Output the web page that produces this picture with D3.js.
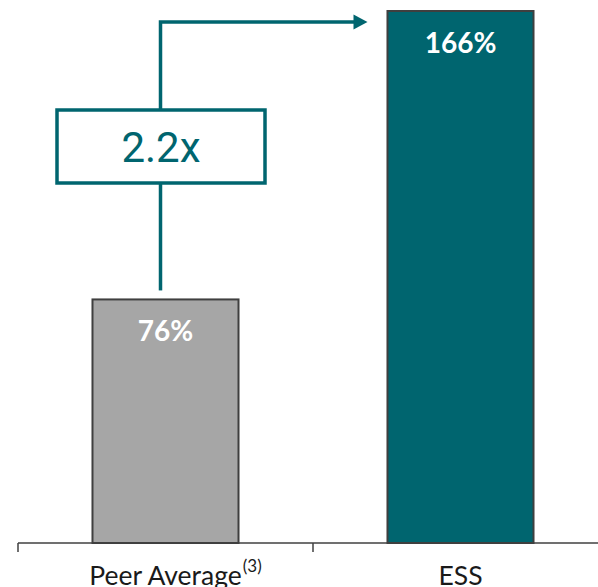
<!DOCTYPE html>
<html>
<head>
<meta charset="utf-8">
<script src="https://cdn.jsdelivr.net/npm/d3@7"></script>
<style>
  body { margin: 0; background: #fff; }
  svg { display: block; font-family: Lato, "Open Sans", sans-serif; }
</style>
</head>
<body>
<svg id="chart" width="598" height="587"></svg>
<script>
// data
const categories = ['Peer Average', 'ESS'];
const footnotes = ['(3)', ''];
const values = [76, 166];
const valueLabels = ['76%', '166%'];
const multipleLabel = '2.2x';

const barColors = ['#a6a6a6', '#00656f'];
const teal = '#00656f';

const svg = d3.select('#chart');
const width = 598, height = 587;
const baseY = 543;

const x = d3.scaleBand()
  .domain(categories)
  .range([18, 608])
  .paddingInner(0.505)
  .paddingOuter(0.2525);

const y = d3.scaleLinear()
  .domain([0, d3.max(values)])
  .range([baseY, 11]);

// bars
svg.selectAll('rect.bar')
  .data(values)
  .enter()
  .append('rect')
  .attr('class', 'bar')
  .attr('x', (d, i) => x(categories[i]))
  .attr('y', d => y(d))
  .attr('width', x.bandwidth())
  .attr('height', d => baseY - y(d))
  .attr('fill', (d, i) => barColors[i])
  .attr('stroke', '#3f3f3f')
  .attr('stroke-width', 2);

// value labels
svg.selectAll('text.val')
  .data(values)
  .enter()
  .append('text')
  .attr('class', 'val')
  .attr('x', (d, i) => x(categories[i]) + x.bandwidth() / 2)
  .attr('y', d => y(d) + 42)
  .attr('text-anchor', 'middle')
  .attr('fill', '#fff')
  .attr('font-weight', 'bold')
  .attr('font-size', 28)
  .text((d, i) => valueLabels[i]);

// axis: line with ticks at band boundaries
const step = x.step();
const edges = [x(categories[0]) - step * x.paddingInner() / 2];
categories.forEach(c => edges.push(x(c) + x.bandwidth() + step * x.paddingInner() / 2));

svg.append('line')
  .attr('x1', edges[0]).attr('x2', width)
  .attr('y1', baseY).attr('y2', baseY)
  .attr('stroke', '#404040').attr('stroke-width', 1.5);

svg.selectAll('line.tick')
  .data(edges)
  .enter()
  .append('line')
  .attr('class', 'tick')
  .attr('x1', d => d).attr('x2', d => d)
  .attr('y1', baseY).attr('y2', baseY + 9)
  .attr('stroke', '#404040').attr('stroke-width', 1.5);

// category labels
categories.forEach((c, i) => {
  const cx = x(c) + x.bandwidth() / 2;
  const t = svg.append('text')
    .attr('x', cx)
    .attr('y', 585)
    .attr('text-anchor', 'middle')
    .attr('font-size', 26.5)
    .attr('fill', '#1a1a1a')
    .text(c);
  if (footnotes[i]) {
    const len = t.node().getComputedTextLength();
    svg.append('text')
      .attr('x', cx + len / 2 + 1)
      .attr('y', 572)
      .attr('font-size', 17)
      .attr('fill', '#1a1a1a')
      .text(footnotes[i]);
  }
});

// growth annotation
const lineX = x(categories[0]) + x.bandwidth() / 2 - 5;
const topY = 22;
const boxTop = 110, boxBottom = 183;
const arrowEnd = x(categories[1]) - 20;

svg.append('path')
  .attr('d', `M${lineX},${y(values[0]) - 9} V${boxBottom}`)
  .attr('fill', 'none').attr('stroke', teal).attr('stroke-width', 3.5);

svg.append('path')
  .attr('d', `M${lineX},${boxTop} V${topY} H${arrowEnd - 12}`)
  .attr('fill', 'none').attr('stroke', teal).attr('stroke-width', 3.5);

svg.append('path')
  .attr('d', `M${arrowEnd - 14},${topY - 7.5} L${arrowEnd},${topY} L${arrowEnd - 14},${topY + 7.5} Z`)
  .attr('fill', teal);

svg.append('rect')
  .attr('x', 57).attr('y', boxTop)
  .attr('width', 208).attr('height', boxBottom - boxTop)
  .attr('fill', '#fff')
  .attr('stroke', teal).attr('stroke-width', 3.5);

svg.append('text')
  .attr('x', 161)
  .attr('y', 162)
  .attr('text-anchor', 'middle')
  .attr('font-family', 'Roboto, sans-serif')
  .attr('font-size', 42)
  .attr('fill', teal)
  .text(multipleLabel);
</script>
</body>
</html>
